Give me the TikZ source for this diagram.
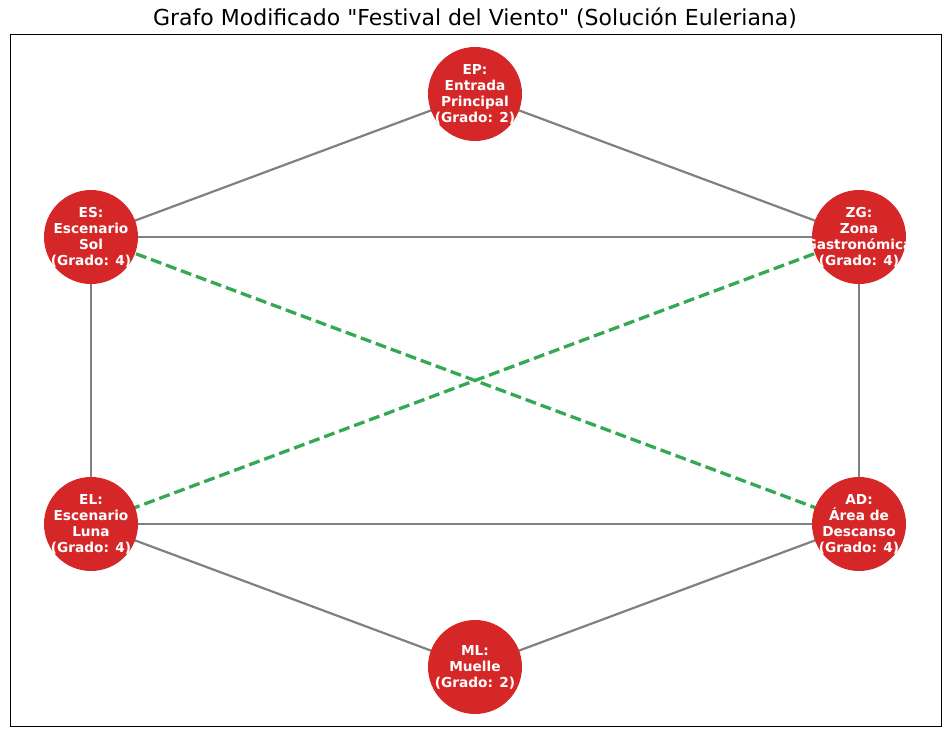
\documentclass[tikz,border=0pt]{standalone}
\usepackage{fontspec}
\setmainfont{DejaVu Sans}
\newcommand\dquote{\XeTeXglyph\XeTeXglyphindex "quotedbl"\relax}
\definecolor{nodered}{HTML}{D62728}
\definecolor{edgegray}{HTML}{808080}
\definecolor{edgegreen}{HTML}{34A853}
\begin{document}
\begin{tikzpicture}[x=1pt,y=-1pt,
  vtx/.style={circle,fill=nodered,minimum size=94pt,inner sep=0pt},
  vtxtext/.style={text=white,font=\fontsize{13.7}{16}\selectfont\bfseries,align=center,inner sep=0pt},
  base/.style={draw=edgegray,line width=2.2pt},
  extra/.style={draw=edgegreen,line width=3.3pt,dash pattern=on 11pt off 5pt}]
\useasboundingbox (0,0) rectangle (950,737);
\node[font=\fontsize{22}{26}\selectfont] (title) at (475,18) {Grafo Modificado \dquote Festival del Viento\dquote{} (Solución Euleriana)};
\draw[line width=1pt] (10,34) rectangle (941,726);
\coordinate (cEP) at (475,94);
\coordinate (cES) at (91,237);
\coordinate (cZG) at (859,237);
\coordinate (cEL) at (91,524);
\coordinate (cAD) at (859,524);
\coordinate (cML) at (475,667);
\draw[base] (cEP) -- (cES);
\draw[base] (cEP) -- (cZG);
\draw[base] (cES) -- (cZG);
\draw[base] (cES) -- (cEL);
\draw[base] (cZG) -- (cAD);
\draw[base] (cEL) -- (cAD);
\draw[base] (cEL) -- (cML);
\draw[base] (cAD) -- (cML);
\draw[extra] (cES) -- (cAD);
\draw[extra] (cZG) -- (cEL);
\node[vtx,label={[vtxtext]center:EP:\\Entrada\\Principal\\(Grado: 2)}] (EP) at (cEP) {};
\node[vtx,label={[vtxtext]center:ES:\\Escenario\\Sol\\(Grado: 4)}] (ES) at (cES) {};
\node[vtx,label={[vtxtext]center:ZG:\\Zona\\Gastronómica\\(Grado: 4)}] (ZG) at (cZG) {};
\node[vtx,label={[vtxtext]center:EL:\\Escenario\\Luna\\(Grado: 4)}] (EL) at (cEL) {};
\node[vtx,label={[vtxtext]center:AD:\\Área de\\Descanso\\(Grado: 4)}] (AD) at (cAD) {};
\node[vtx,label={[vtxtext]center:ML:\\Muelle\\(Grado: 2)}] (ML) at (cML) {};
\end{tikzpicture}
\end{document}
